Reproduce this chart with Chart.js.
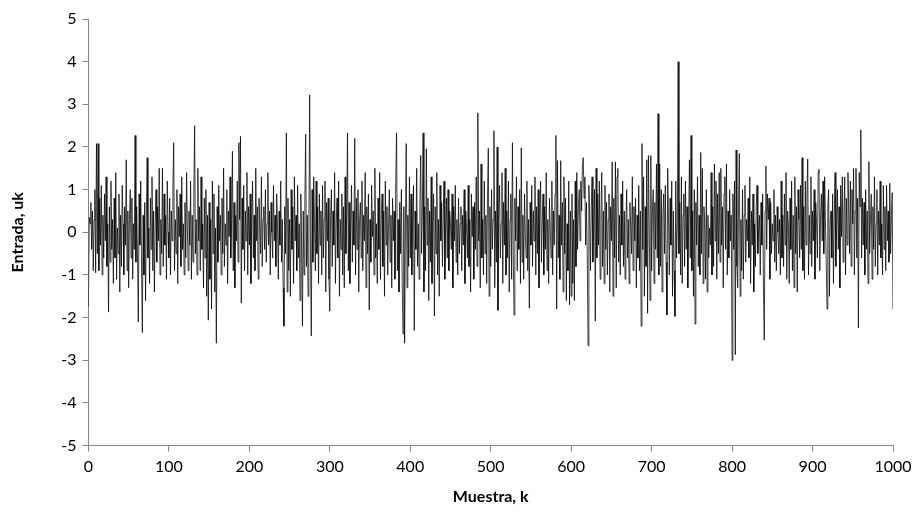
<!doctype html>
<html lang="es">
<head>
<meta charset="utf-8">
<title>Entrada uk</title>
<script src="https://cdn.jsdelivr.net/npm/chart.js"></script>
<style>
  html, body { margin: 0; padding: 0; background: #fff; }
  #wrap { width: 921px; height: 531px; }
</style>
</head>
<body>
<div id="wrap"><canvas id="myChart" width="921" height="531"></canvas></div>
<script>
// input signal uk (k = 0..1000)
const entrada = [
  -1.75, 0.35, 0.2, 0.7, -0.4, 0.5, -0.9, 0.3, 1.0, -0.95, 2.08, -0.5, 2.08, -0.9, 0.8, -0.3, 1.1, -1.0, 0.4, -0.6,
  0.9, -0.2, 1.3, -0.8, 0.2, -1.87, 0.6, -0.7, 1.2, -0.4, 0.3, -1.2, 0.8, -0.6, 1.4, -1.1, 0.1, -0.5, 0.9, -1.4,
  0.4, -0.8, 1.1, 0.2, -1.0, 0.6, -0.3, 1.7, -0.9, 0.5, -1.3, 0.3, 1.0, -0.6, 0.8, -1.1, 0.2, -0.4, 2.27, -0.7,
  0.6, -0.5, -2.1, 0.9, -0.3, 1.2, -0.8, -2.35, 0.4, -1.0, 0.7, -1.6, 0.3, 1.75, -0.6, 0.1, -1.2, 0.8, -0.4, 1.3,
  -0.9, 0.5, -1.4, 0.2, 1.0, -0.7, 0.6, -0.2, 1.5, -1.0, 0.3, -0.5, 1.5, -0.8, 0.9, -0.3, 0.4, -1.1, 1.2, 0.0,
  -0.6, 0.8, -1.0, 0.5, -0.2, 1.1, 2.1, -0.9, 0.3, -0.5, 1.0, -1.2, 0.6, -0.1, 0.9, -0.8, 1.3, -0.4, 0.2, -1.0,
  0.7, -0.6, 1.4, 0.1, -0.9, 0.5, -0.3, 1.2, -1.1, 0.4, -0.7, 0.9, 2.5, -0.5, 0.3, -1.0, 1.5, -0.2, 0.6, -0.9,
  1.3, -0.4, 0.2, -1.3, 0.8, -0.6, 1.0, -1.5, 0.4, -2.06, 0.7, -1.1, 0.3, -1.8, 1.2, -0.5, 0.9, -1.4, 0.1, -2.6,
  0.6, -0.7, 1.1, -0.2, 0.4, -1.0, 0.8, -0.5, 1.5, -0.8, 0.2, -0.3, 1.0, -1.2, 0.5, -0.1, 1.3, -0.6, 0.3, 1.9,
  -0.9, 0.7, -1.3, 0.4, -0.2, 1.2, -0.7, 2.1, 0.3, 2.25, -1.66, 0.8, -0.4, 1.1, -0.9, 0.5, -0.2, 1.4, -1.0, 0.6,
  -0.3, 0.9, -1.2, 0.2, 1.2, -0.6, 0.4, -0.9, 1.5, -0.2, 0.6, -1.1, 0.8, 0.1, -0.5, 1.3, -0.8, 0.3, 0.6, -0.4,
  1.0, -0.7, 0.2, 1.4, -0.3, 0.5, -1.0, 0.7, 0.0, -0.6, 1.1, -0.2, 0.4, -0.8, 0.9, 0.2, -1.1, 0.5, -0.3, 1.2,
  -0.7, 0.3, -1.3, -2.2, 0.6, -0.5, 2.33, -1.4, 0.8, -0.9, 0.3, -1.5, 1.0, -0.4, 0.6, -1.2, 1.3, -0.2, 0.4, -0.9,
  1.1, -0.6, 0.2, -1.6, 0.9, -0.3, -2.2, 0.5, -1.0, 0.7, 2.3, -0.8, 0.4, -1.5, 0.1, 3.22, -0.4, -2.43, 1.0, -0.7,
  1.3, 0.2, -0.9, 1.2, -0.5, 0.6, -1.2, 0.9, -0.3, 0.5, -1.0, 1.1, -0.6, 0.3, 1.2, -1.4, 0.7, -0.2, 0.8, -1.1,
  -1.85, 0.4, 1.0, -0.8, 0.5, -0.3, 1.4, -1.2, 0.2, 0.8, -0.6, 1.2, -1.5, 0.3, -0.4, 0.9, -1.0, 0.6, -1.3, 1.3,
  -0.5, 0.4, 2.33, -0.9, 0.7, -1.2, 0.2, 1.1, -0.7, 0.5, -0.3, 2.2, -1.0, 0.8, -0.4, 1.0, -1.4, 0.3, 0.7, -0.6,
  1.2, -0.9, 0.4, -0.2, 1.4, -1.3, 0.6, -0.5, 0.9, -1.82, 0.3, -0.7, 1.1, -0.1, 0.5, -1.0, 1.5, -0.6, 0.2, -1.2,
  0.8, -0.4, 1.4, -1.1, 0.3, 0.9, -0.8, 0.5, -1.5, 1.2, -0.3, 0.6, -1.0, 0.2, 1.0, -0.7, 0.4, -1.3, 0.8, -0.2,
  0.5, -1.1, 1.2, 2.33, -0.9, 0.3, -1.4, 0.7, -0.5, 1.0, -1.2, -2.38, 0.6, -2.6, 0.2, 2.08, -1.3, 0.4, -0.8, 1.3,
  -0.6, 0.9, -1.0, 0.3, 1.1, -2.3, 0.5, -0.4, 1.5, -0.8, 0.2, -1.1, 0.7, 1.8, -0.5, 0.4, 2.33, -1.4, 0.6, -0.9,
  1.96, -0.3, 0.8, -1.6, 0.5, -0.7, 1.3, -1.2, 0.2, 0.9, -1.96, 0.6, -0.5, 1.4, -1.0, 0.3, -1.5, 1.1, -0.2, 0.7,
  -0.8, 0.4, 1.2, -1.1, 0.1, 0.8, -0.6, 1.0, -0.9, 0.5, 0.2, -0.4, 0.9, -1.3, 0.6, -0.2, 1.1, -0.7, 0.3, -1.0,
  0.8, -0.5, 0.2, 0.6, -0.9, 0.4, -0.3, 1.0, -1.2, 0.5, 0.1, -0.6, 1.1, -0.8, 0.3, -1.4, 0.9, -0.1, 0.6, -1.1,
  0.7, -0.4, 1.3, -0.8, 2.8, -0.2, 0.5, -1.3, 1.6, -0.6, 0.3, -1.0, 1.2, -0.5, 0.4, -1.2, 0.8, 1.97, -1.5, 0.6,
  -0.8, 1.0, -0.4, 0.3, 2.38, -1.3, 0.5, -0.7, 2.0, -1.83, 0.4, 1.1, -0.6, 0.2, 1.4, -1.2, 0.7, -0.3, 1.5, -1.0,
  0.5, -0.6, 1.2, -1.4, 0.3, 0.9, -1.1, 2.1, -0.5, -1.94, 0.8, -0.2, 1.3, -0.9, 0.6, -0.4, 1.0, -1.2, 1.98, -0.7,
  0.4, -1.1, 0.9, 0.0, -0.6, 1.2, -0.9, 0.3, -1.78, 0.7, -0.3, 1.1, -0.8, 0.5, -0.2, 1.3, -1.0, 0.6, -0.5, 1.0,
  -1.3, 0.4, 1.2, -0.7, 0.2, 0.9, -1.0, 0.6, -0.4, 1.4, -0.9, 0.3, -1.2, 0.8, 0.1, -0.6, 1.2, -1.0, 0.5, -0.3,
  0.9, 2.27, -1.8, 1.68, -0.6, 0.4, -1.1, 1.68, -0.3, 0.7, -1.4, 1.3, -0.5, 0.8, -1.6, 0.2, -0.9, 1.2, -1.7, 0.5,
  -1.5, 0.9, -1.2, 0.3, -1.6, 1.2, -0.8, 1.4, -0.4, 0.6, 1.0, -0.2, 1.2, 0.5, 1.6, 1.75, 0.8, 1.3, -0.3, 0.7,
  -0.5, -2.66, 1.1, 0.4, -0.9, 0.6, 1.3, -0.7, 0.2, 1.0, -2.08, 1.5, -0.6, 0.9, -0.3, 1.2, -1.1, 0.4, 1.4, -0.8,
  0.5, -1.2, 1.1, -0.4, 0.7, -1.0, 0.3, 0.9, -1.4, 0.6, -0.2, 1.65, -1.5, 0.8, -0.6, 1.65, -1.3, 1.3, 1.5, -0.7,
  0.4, -1.0, 0.9, -0.3, 1.2, -0.8, 0.5, -1.1, 0.2, 1.0, -0.6, 0.3, -1.2, 0.7, 0.1, -0.5, 1.3, -0.9, 0.6, -0.2,
  0.8, -1.3, 0.4, -0.6, 1.1, -0.9, 0.5, -2.2, 2.08, -0.4, 1.3, -1.5, 0.6, -0.8, 1.7, -1.9, 1.8, 0.2, -1.6, 1.8,
  -0.9, 0.5, 1.0, -1.2, 0.7, -0.4, 1.6, -0.6, 2.78, -1.0, 1.6, -0.8, 1.0, -1.4, 0.4, 0.9, -0.5, 1.1, -0.7, -1.94,
  1.5, 0.3, -1.0, 0.8, -0.3, 1.2, -1.5, 0.5, -0.9, -1.97, 1.2, -0.6, 0.2, 4.0, -0.5, 0.7, -1.0, 1.3, -1.2, 0.4,
  0.9, -0.8, 1.2, -0.4, 0.6, -1.3, 0.2, 1.7, -0.6, 2.27, -0.9, 0.5, -1.5, 1.0, -2.15, 0.7, -0.3, 1.3, -0.8, 0.4,
  -1.0, 1.87, -0.5, 1.5, -1.2, 0.6, 0.2, -1.1, 1.0, -1.4, 0.4, -0.6, 0.1, -0.3, 1.4, -1.0, 0.6, -0.8, 1.6, -0.2,
  1.2, -1.1, 0.9, -0.5, 1.4, -0.7, 1.5, -0.3, 0.6, -1.3, 0.9, 1.3, -0.4, 1.6, -1.0, 0.5, -0.6, 1.0, -0.2, 0.4,
  -3.0, 0.9, -0.4, 1.2, -2.87, 1.93, -0.8, -1.3, 0.6, 1.85, -1.5, 0.3, -0.9, 1.0, -1.1, 0.4, 1.1, -0.7, 0.3, -0.2,
  0.8, -0.6, 1.3, -1.2, 0.5, -0.3, 0.9, -1.4, 0.2, -0.8, 0.6, 1.1, -0.5, 0.0, 0.4, -1.0, 0.7, -0.3, 0.9, -1.3,
  -2.53, 0.5, 1.55, -0.4, 0.9, 0.3, 0.8, -1.1, 0.7, -0.5, 0.2, -0.2, 1.0, -0.7, 0.4, -0.9, 0.6, 0.0, -0.5, 0.3,
  -1.0, 1.2, -0.6, 0.4, -0.8, 0.9, -0.3, 1.4, -1.1, 0.5, 0.2, -1.2, 0.8, -0.4, 1.2, -0.9, 0.4, -1.3, 1.3, -0.5,
  0.6, -1.4, 1.0, 0.3, -0.6, 1.1, -0.4, 1.75, -0.9, 0.6, -1.1, 1.2, -0.3, 0.8, 1.72, -1.0, 0.4, -0.5, 1.3, -0.8,
  0.5, -0.2, 1.0, -1.1, 0.7, 0.2, -0.6, 1.4, 1.48, -0.9, 0.4, 0.9, -0.2, 1.2, -0.5, 1.3, 0.3, -0.7, -1.8, 0.6,
  1.0, -1.5, 0.3, 0.5, -0.6, 0.9, -1.2, 0.4, 1.4, -0.8, 0.2, 1.0, -0.4, 0.6, -1.3, 1.1, -0.1, 1.3, -0.7, 0.4,
  1.3, -1.0, 0.8, -0.3, 1.4, 0.6, -0.5, 1.2, -0.8, 1.0, 0.2, 1.5, -1.0, 0.5, 1.5, -0.6, 0.8, -2.24, 1.4, 0.6,
  2.4, -0.6, 0.8, -0.3, 0.7, -1.0, 1.0, -0.4, 0.5, -1.2, 1.66, -0.5, 0.3, 0.9, -1.1, 0.6, -0.4, 1.3, -0.8, 0.2,
  1.0, -1.0, 0.5, -0.3, 1.2, -0.6, 0.2, -1.0, 1.1, -0.4, 0.6, -0.9, 1.1, -0.2, 0.5, -0.7, 1.15, -0.5, 0.4, 0.93,
  -1.8
]
const xTicks = [0, 100, 200, 300, 400, 500, 600, 700, 800, 900, 1000]
const yTicks = [-5, -4, -3, -2, -1, 0, 1, 2, 3, 4, 5]

const axisGray = '#868686'
const fontFam = 'Lato, "Open Sans", sans-serif'

const points = entrada.map((v, k) => ({ x: k, y: v }))

new Chart(document.getElementById('myChart'), {
  type: 'line',
  data: {
    datasets: [{
      label: 'uk',
      data: points,
      borderColor: '#000',
      borderWidth: 0.75,
      pointRadius: 0,
      tension: 0,
      fill: false
    }]
  },
  options: {
    responsive: false,
    animation: false,
    layout: { padding: { top: 19, right: 28, left: 4, bottom: 21 } },
    plugins: {
      legend: { display: false },
      tooltip: { enabled: false }
    },
    scales: {
      x: {
        type: 'linear',
        min: xTicks[0],
        max: xTicks[xTicks.length - 1],
        afterBuildTicks: axis => { axis.ticks = xTicks.map(v => ({ value: v })) },
        grid: { drawOnChartArea: false, drawTicks: true, tickLength: 6, color: axisGray },
        border: { color: axisGray, width: 1 },
        ticks: { color: '#000', font: { family: fontFam, size: 16 }, padding: 6, maxRotation: 0, callback: v => String(v) },
        title: { display: true, text: 'Muestra, k', color: '#000', font: { family: fontFam, size: 16, weight: 'bold' }, padding: { top: 4 } }
      },
      y: {
        min: yTicks[0],
        max: yTicks[yTicks.length - 1],
        afterBuildTicks: axis => { axis.ticks = yTicks.map(v => ({ value: v })) },
        grid: { drawOnChartArea: false, drawTicks: true, tickLength: 6, color: axisGray },
        border: { color: axisGray, width: 1 },
        ticks: { color: '#000', font: { family: fontFam, size: 16 }, padding: 6, callback: v => String(v) },
        title: { display: true, text: 'Entrada, uk', color: '#000', font: { family: fontFam, size: 16, weight: 'bold' }, padding: { bottom: 28 } }
      }
    }
  }
})
</script>
</body>
</html>
